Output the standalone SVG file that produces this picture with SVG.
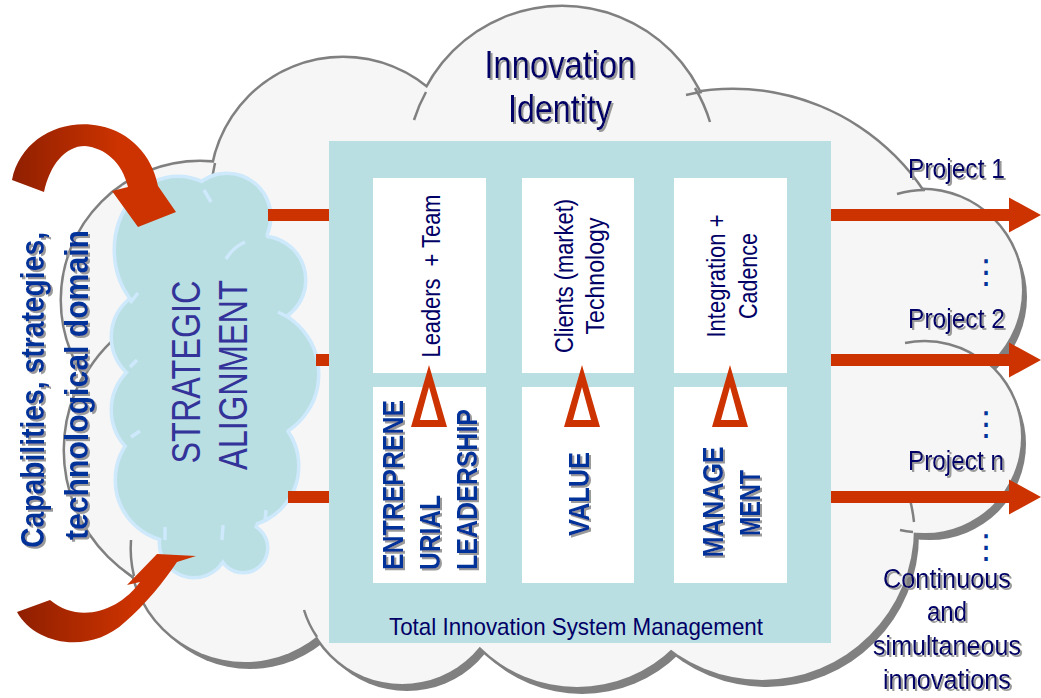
<svg xmlns="http://www.w3.org/2000/svg" width="1041" height="698" viewBox="0 0 1041 698">
<defs>
<style>
.navy{fill:#000066;font-family:"Liberation Sans Narrow","Liberation Sans",Arial,sans-serif;}
.thin{fill:#000066;font-family:"Liberation Sans",Arial,sans-serif;}
.blueb{fill:#003399;font-family:"Liberation Sans Narrow","Liberation Sans",Arial,sans-serif;font-weight:bold;}
.strat{fill:#333399;font-family:"Liberation Sans Narrow","Liberation Sans",Arial,sans-serif;}
.hook{fill:none;stroke:#808080;stroke-width:2.5}
.sahook{fill:none;stroke:#cde9fb;stroke-width:3.5}
.conn{fill:none;stroke:#cc3300;stroke-width:12}
.wbox{fill:#ffffff}
.tri{fill:#cc3300;fill-rule:evenodd}
.dots{fill:#003399;font-family:"DejaVu Sans",sans-serif;}
</style>
<g id="bigLobes">
<circle cx="562" cy="160" r="153"/>
<circle cx="343" cy="190" r="132"/>
<circle cx="200" cy="300" r="138"/>
<circle cx="215" cy="450" r="150"/>
<circle cx="245" cy="547" r="115"/>
<circle cx="402" cy="584" r="100"/>
<circle cx="577" cy="549" r="138"/>
<circle cx="762" cy="528" r="152"/>
<circle cx="922" cy="290" r="100"/>
<circle cx="925" cy="437" r="96"/>
<circle cx="733" cy="318" r="228"/>
<polygon points="230,170 400,120 640,110 860,200 900,300 900,500 850,620 330,640 130,540 90,300"/>
</g>
<g id="saLobes">
<ellipse cx="178" cy="250" rx="62" ry="72"/>
<circle cx="227" cy="217" r="42"/>
<circle cx="262" cy="280" r="42"/>
<circle cx="251" cy="374" r="66"/>
<circle cx="238" cy="466" r="59"/>
<circle cx="243" cy="548" r="23"/>
<circle cx="194" cy="543" r="33"/>
<circle cx="177" cy="480" r="60"/>
<circle cx="165" cy="410" r="52"/>
<circle cx="160" cy="337" r="47"/>
<polygon points="150,220 260,210 280,300 290,420 250,540 180,540 140,450 140,320"/>
</g>
<marker id="ah" markerUnits="userSpaceOnUse" markerWidth="32" markerHeight="35" refX="0" refY="17.5" orient="auto" overflow="visible">
<path d="M0,0 L32,17.5 L0,35 Z" fill="#cc3300"/>
</marker>
<linearGradient id="curv" x1="0" y1="0" x2="1" y2="0">
<stop offset="0" stop-color="#8f1f00"/>
<stop offset="0.65" stop-color="#cc3300"/>
</linearGradient>
<filter id="sh" filterUnits="userSpaceOnUse" x="0" y="0" width="1041" height="698">
<feDropShadow dx="2" dy="2" stdDeviation="0.4" flood-color="#9a9a9a" flood-opacity="1"/>
</filter>
</defs>

<rect width="1041" height="698" fill="#ffffff"/>

<g id="innovation-identity">
<use href="#bigLobes" fill="#808080" transform="translate(5,7)"/>
<use href="#bigLobes" fill="none" stroke="#808080" stroke-width="5"/>
<use href="#bigLobes" fill="#f6f6f6"/>
<path class="hook" d="M 426,92 A 153 153 0 0 0 414,120"/>
<path class="hook" d="M 695,88 A 153 153 0 0 1 710,122"/>
<path class="hook" d="M 702,92 A 228 228 0 0 0 686,95"/>
<path class="hook" d="M 215,163 A 132 132 0 0 0 211,192"/>
<path class="hook" d="M 80,385 A 150 150 0 0 1 125,330"/>
<path class="hook" d="M 925,190 A 100 100 0 0 0 897,194"/>
<path class="hook" d="M 988,365 A 96 96 0 0 0 905,343"/>
<path class="hook" d="M 914,522 A 152 152 0 0 0 909,496"/>
<path class="hook" d="M 913,532 A 96 96 0 0 1 900,530"/>
<path class="hook" d="M 134,576 A 115 115 0 0 1 131,540"/>
<path class="hook" d="M 317,637 A 100 100 0 0 1 304,610"/>
<g filter="url(#sh)">
<text class="navy" x="560" y="78" font-size="39" text-anchor="middle" textLength="151" lengthAdjust="spacingAndGlyphs">Innovation</text>
<text class="navy" x="560" y="122" font-size="39" text-anchor="middle" textLength="104" lengthAdjust="spacingAndGlyphs">Identity</text>
</g>
</g>

<g id="strategic-alignment">
<use href="#saLobes" fill="none" stroke="#cde9fb" stroke-width="7"/>
<use href="#saLobes" fill="#b9dfe3"/>
<path class="sahook" d="M 226,259 A 42 42 0 0 1 245,242"/>
<path class="sahook" d="M 204,190 L 211,202"/>
<path class="sahook" d="M 290,318 L 278,312"/>
<path class="sahook" d="M 130,303 L 138,293"/>
<path class="sahook" d="M 130,367 L 137,360"/>
<path class="sahook" d="M 131,437 L 140,431"/>
<path class="sahook" d="M 165,540 L 165,527"/>
<path class="sahook" d="M 222,540 L 223,525"/>
<path class="sahook" d="M 265,522 L 266,510"/>
<text class="strat" transform="translate(200,372) rotate(-90)" font-size="41" text-anchor="middle" textLength="183" lengthAdjust="spacingAndGlyphs">STRATEGIC</text>
<text class="strat" transform="translate(247,375) rotate(-90)" font-size="41" text-anchor="middle" textLength="190" lengthAdjust="spacingAndGlyphs">ALIGNMENT</text>
</g>

<g id="connectors">
<path class="conn" d="M 268,215 H 1009" marker-end="url(#ah)"/>
<path class="conn" d="M 316,360 H 1009" marker-end="url(#ah)"/>
<path class="conn" d="M 288,497 H 1009" marker-end="url(#ah)"/>
<path id="arrow-in-top" d="M 12,180 C 20,140 60,118 100,126 C 130,132 152,155 158,186 L 176,212 L 138,227 L 112,191 L 128,187 C 122,162 105,148 85,146 C 65,146 50,165 44,192 Z" fill="url(#curv)"/>
<path id="arrow-in-bottom" d="M 17,612 C 35,645 90,655 125,622 C 145,605 165,580 177,562 L 196,556 L 157,554 L 127,585 L 140,582 C 120,610 80,625 50,600 Z" fill="url(#curv)"/>
</g>

<g id="inputs-label" filter="url(#sh)">
<text class="blueb" transform="translate(44,390) rotate(-90)" font-size="34" text-anchor="middle" textLength="316" lengthAdjust="spacingAndGlyphs">Capabilities, strategies,</text>
<text class="blueb" transform="translate(88,385) rotate(-90)" font-size="34" text-anchor="middle" textLength="310" lengthAdjust="spacingAndGlyphs">technological domain</text>
</g>

<g id="total-innovation-system">
<rect x="329" y="141" width="502" height="502" fill="#badfe3"/>
<text class="navy" x="576" y="635" font-size="24" text-anchor="middle" textLength="374" lengthAdjust="spacingAndGlyphs">Total Innovation System Management</text>
</g>

<g id="leaders-team">
<rect class="wbox" x="373" y="178" width="113" height="195"/>
<text class="thin" xml:space="preserve" transform="translate(440,276) rotate(-90)" font-size="25" text-anchor="middle" textLength="163" lengthAdjust="spacingAndGlyphs">Leaders  + Team</text>
</g>
<g id="clients-technology">
<rect class="wbox" x="522" y="178" width="112" height="195"/>
<text class="thin" transform="translate(573,276) rotate(-90)" font-size="25" text-anchor="middle" textLength="154" lengthAdjust="spacingAndGlyphs">Clients (market)</text>
<text class="thin" transform="translate(604,276) rotate(-90)" font-size="25" text-anchor="middle" textLength="117" lengthAdjust="spacingAndGlyphs">Technology</text>
</g>
<g id="integration-cadence">
<rect class="wbox" x="674" y="178" width="113" height="195"/>
<text class="thin" transform="translate(725,276) rotate(-90)" font-size="25" text-anchor="middle" textLength="123" lengthAdjust="spacingAndGlyphs">Integration +</text>
<text class="thin" transform="translate(757,276) rotate(-90)" font-size="25" text-anchor="middle" textLength="86" lengthAdjust="spacingAndGlyphs">Cadence</text>
</g>

<g id="entrepreneurial-leadership">
<rect class="wbox" x="373" y="387" width="113" height="196"/>
<g filter="url(#sh)">
<text class="blueb" transform="translate(403,570) rotate(-90)" font-size="29" textLength="170" lengthAdjust="spacingAndGlyphs">ENTREPRENE</text>
<text class="blueb" transform="translate(440,570) rotate(-90)" font-size="29" textLength="75" lengthAdjust="spacingAndGlyphs">URIAL</text>
<text class="blueb" transform="translate(477,570) rotate(-90)" font-size="29" textLength="161" lengthAdjust="spacingAndGlyphs">LEADERSHIP</text>
</g>
</g>
<g id="value">
<rect class="wbox" x="522" y="387" width="112" height="196"/>
<g filter="url(#sh)">
<text class="blueb" transform="translate(589,494) rotate(-90)" font-size="29" text-anchor="middle" textLength="84" lengthAdjust="spacingAndGlyphs">VALUE</text>
</g>
</g>
<g id="management">
<rect class="wbox" x="674" y="387" width="113" height="196"/>
<g filter="url(#sh)">
<text class="blueb" transform="translate(723,502) rotate(-90)" font-size="29" text-anchor="middle" textLength="111" lengthAdjust="spacingAndGlyphs">MANAGE</text>
<text class="blueb" transform="translate(760,503) rotate(-90)" font-size="29" text-anchor="middle" textLength="66" lengthAdjust="spacingAndGlyphs">MENT</text>
</g>
</g>

<g id="links">
<path class="tri" d="M 429,365 L 447,427 L 411,427 Z M 429,387 L 420,420 L 438,420 Z"/>
<path class="tri" d="M 582,365 L 600,427 L 564,427 Z M 582,387 L 573,420 L 591,420 Z"/>
<path class="tri" d="M 730,365 L 748,427 L 712,427 Z M 730,387 L 721,420 L 739,420 Z"/>
</g>

<g id="projects">
<g filter="url(#sh)">
<text class="navy" x="908" y="178" font-size="27" textLength="97" lengthAdjust="spacingAndGlyphs">Project 1</text>
<text class="navy" x="908" y="328" font-size="27" textLength="97" lengthAdjust="spacingAndGlyphs">Project 2</text>
<text class="navy" x="908" y="470" font-size="27" textLength="96" lengthAdjust="spacingAndGlyphs">Project n</text>
<text class="navy" x="947" y="588" font-size="27" text-anchor="middle" textLength="128" lengthAdjust="spacingAndGlyphs">Continuous</text>
<text class="navy" x="947" y="621" font-size="27" text-anchor="middle" textLength="40" lengthAdjust="spacingAndGlyphs">and</text>
<text class="navy" x="947" y="655" font-size="27" text-anchor="middle" textLength="148" lengthAdjust="spacingAndGlyphs">simultaneous</text>
<text class="navy" x="947" y="689" font-size="27" text-anchor="middle" textLength="128" lengthAdjust="spacingAndGlyphs">innovations</text>
</g>
<text class="dots" x="986" y="283" font-size="33" text-anchor="middle">⋮</text>
<text class="dots" x="986" y="435" font-size="33" text-anchor="middle">⋮</text>
<text class="dots" x="986" y="558" font-size="33" text-anchor="middle">⋮</text>
</g>
</svg>
